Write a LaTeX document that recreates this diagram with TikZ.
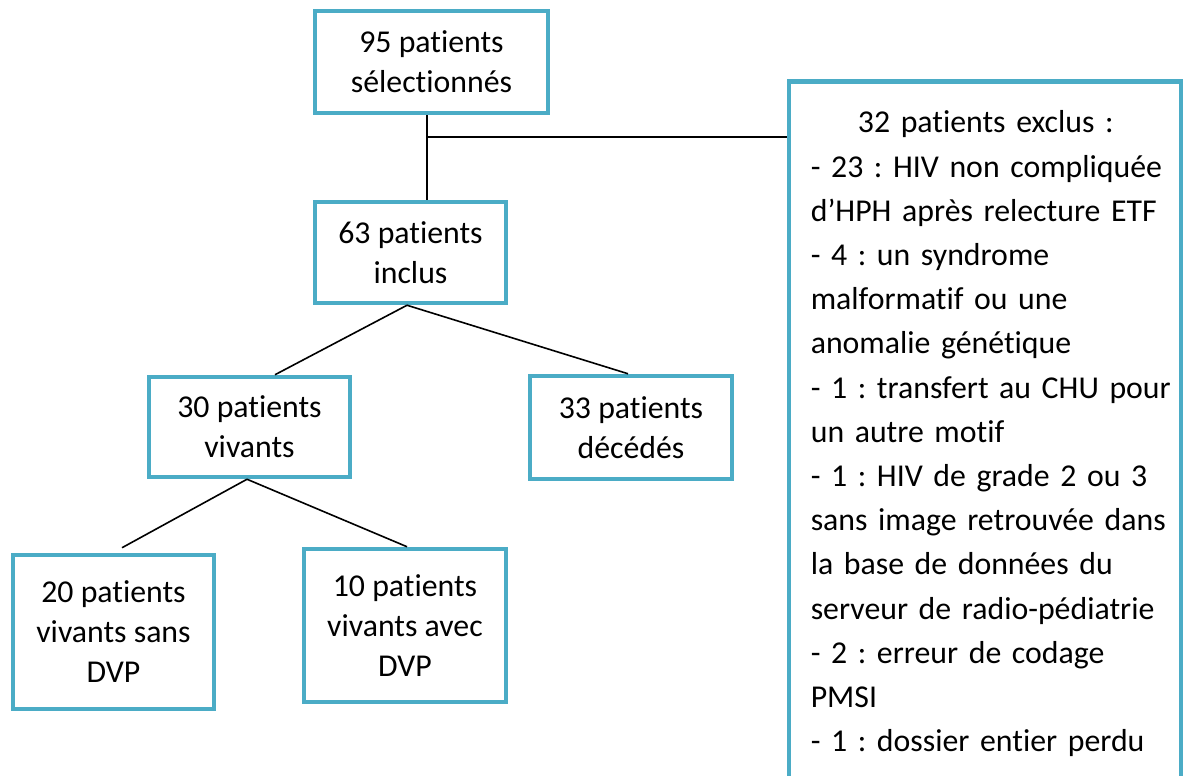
\documentclass[tikz,border=0pt]{standalone}
\usepackage{fontspec}
\setmainfont{Carlito}[Ligatures=NoCommon]
\usepackage{tikz}
\usetikzlibrary{positioning,calc}
\definecolor{aqua}{HTML}{4BACC6}
\frenchspacing
\tikzset{
  every picture/.append style={line width=0.8pt},
  every node/.append style={font=\fontsize{15.9}{20}\selectfont},
}

\begin{document}
\begin{tikzpicture}[x=0.5pt, y=0.5pt,
  patbox/.style={rectangle, draw=aqua, line width=2.25pt, fill=white,
                 align=center, inner sep=0pt},
  link/.style={draw=black, line width=0.8pt},
  listtext/.style={font=\fontsize{15.9}{22.1}\selectfont, text width=186pt,
                   align=left, inner sep=0pt}
]
\path[use as bounding box] (0,0) rectangle (1184,776);
\clip (0,0) rectangle (1184,776);

% Boxes
\node[patbox, minimum width=116.5pt, minimum height=51pt] (selected) at (431.5,714) {95 patients\\sélectionnés};
\node[patbox, minimum width=95.5pt, minimum height=50.5pt] (included) at (410.5,523.5) {63 patients\\inclus};
\node[patbox, minimum width=100.5pt, minimum height=50pt] (alive) at (249.5,349) {30 patients\\vivants};
\node[patbox, minimum width=101pt, minimum height=51.5pt] (dead) at (631,348.5) {33 patients\\décédés};
\node[patbox, minimum width=100.5pt, minimum height=77pt] (nodvp) at (113.5,144) {20 patients\\vivants sans\\DVP};
\node[patbox, minimum width=101pt, minimum height=76.5pt] (withdvp) at (405,150.5) {10 patients\\vivants avec\\DVP};
\node[patbox, minimum width=196pt, minimum height=354.25pt] (excluded) at (985,340.25) {};
\node[listtext, anchor=base west] (exclist) at (810,643) {\makebox[175pt][c]{32 patients exclus :}\\
- 23 : HIV non compliquée\\
d’HPH après relecture ETF\\
- 4 : un syndrome\\
malformatif ou une\\
anomalie génétique\\
- 1 : transfert au CHU pour\\
un autre motif\\
- 1 : HIV de grade 2 ou 3\\
sans image retrouvée dans\\
la base de données du\\
serveur de radio-pédiatrie\\
- 2 : erreur de codage\\
PMSI\\
- 1 : dossier entier perdu};

% Links
\coordinate (split) at (427,639);
\draw[link] (split |- selected.south) -- (split |- included.north);
\draw[link] (split) -- (split -| excluded.west);
\draw[link] ([xshift=-1.75pt]included.south) -- ([xshift=12.75pt]alive.north);
\draw[link] ([xshift=-1.75pt]included.south) -- ([xshift=-1.5pt]dead.north);
\draw[link] ([xshift=-1.25pt]alive.south) -- ([xshift=4.25pt,yshift=2.5pt]nodvp.north);
\draw[link] ([xshift=-1.25pt]alive.south) -- ([xshift=1pt]withdvp.north);

\end{tikzpicture}
\end{document}
